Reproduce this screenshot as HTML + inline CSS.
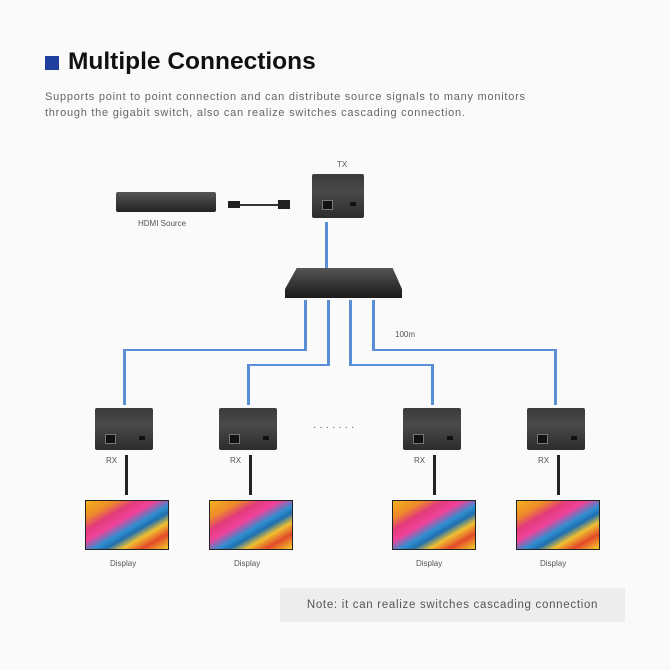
<!DOCTYPE html>
<html><head><style>
body{margin:0;width:670px;height:670px;background:#fafafa;position:relative;overflow:hidden;font-family:"Liberation Sans",sans-serif}
.a{position:absolute}
.rx{position:absolute;width:58px;height:42px;background:linear-gradient(#3a3a3a,#4a4a4a 40%,#2c2c2c);border-radius:2px}
.rx:before{content:"";position:absolute;left:10px;top:26px;width:9px;height:8px;background:#111;border:1px solid #777}
.rx:after{content:"";position:absolute;right:8px;top:28px;width:6px;height:4px;background:#111}
.tv{position:absolute;width:82px;height:48px;background:linear-gradient(150deg,#f2b21a 0%,#ee8a2a 18%,#e23b7a 30%,#f0429a 42%,#2f8fd0 55%,#1f6fb0 62%,#f0c030 72%,#e34a2a 84%,#f6d02a 100%);border:1px solid #222}
.lbl{position:absolute;font-size:8px;color:#555}
.cab{position:absolute;width:3px;background:#222}
.bl{position:absolute;background:#5a8fd8}
</style></head><body>
<div class="a" style="left:45px;top:56px;width:14px;height:14px;background:#1f3e9e"></div>
<div class="a" style="left:68px;top:48px;font-size:24.5px;font-weight:bold;color:#111">Multiple Connections</div>
<div class="a" style="left:45px;top:89px;font-size:11px;letter-spacing:0.75px;color:#666;line-height:16px;white-space:nowrap">Supports point to point connection and can distribute source signals to many monitors<br>through the gigabit switch, also can realize switches cascading connection.</div>

<div class="a" style="left:116px;top:192px;width:100px;height:20px;background:linear-gradient(#555,#222);border-radius:2px"></div>
<div class="lbl" style="left:138px;top:219px">HDMI Source</div>
<div class="a" style="left:228px;top:201px;width:12px;height:7px;background:#222"></div>
<div class="a" style="left:240px;top:204px;width:38px;height:2px;background:#333"></div>
<div class="a" style="left:278px;top:200px;width:12px;height:9px;background:#222"></div>
<div class="lbl" style="left:337px;top:160px">TX</div>
<div class="rx" style="left:312px;top:174px;width:52px;height:44px"></div>

<div class="bl" style="left:325px;top:222px;width:3px;height:46px"></div>
<div class="a" style="left:285px;top:268px;width:117px;height:30px;background:linear-gradient(#555,#1a1a1a);clip-path:polygon(10% 0,92% 0,100% 70%,100% 100%,0 100%,0 70%)"></div>

<div class="bl" style="left:304px;top:300px;width:3px;height:51px"></div>
<div class="bl" style="left:124px;top:349px;width:183px;height:2px"></div>
<div class="bl" style="left:123px;top:349px;width:3px;height:56px"></div>
<div class="bl" style="left:327px;top:300px;width:3px;height:66px"></div>
<div class="bl" style="left:248px;top:364px;width:82px;height:2px"></div>
<div class="bl" style="left:247px;top:364px;width:3px;height:41px"></div>
<div class="bl" style="left:349px;top:300px;width:3px;height:66px"></div>
<div class="bl" style="left:349px;top:364px;width:84px;height:2px"></div>
<div class="bl" style="left:431px;top:364px;width:3px;height:41px"></div>
<div class="bl" style="left:372px;top:300px;width:3px;height:51px"></div>
<div class="bl" style="left:372px;top:349px;width:184px;height:2px"></div>
<div class="bl" style="left:554px;top:349px;width:3px;height:56px"></div>
<div class="lbl" style="left:395px;top:330px">100m</div>

<div class="rx" style="left:95px;top:408px"></div>
<div class="rx" style="left:219px;top:408px"></div>
<div class="rx" style="left:403px;top:408px"></div>
<div class="rx" style="left:527px;top:408px"></div>
<div class="a" style="left:313px;top:422px;font-size:10px;color:#555;letter-spacing:3px">·······</div>

<div class="lbl" style="left:106px;top:456px">RX</div>
<div class="lbl" style="left:230px;top:456px">RX</div>
<div class="lbl" style="left:414px;top:456px">RX</div>
<div class="lbl" style="left:538px;top:456px">RX</div>
<div class="cab" style="left:125px;top:455px;height:40px"></div>
<div class="cab" style="left:249px;top:455px;height:40px"></div>
<div class="cab" style="left:433px;top:455px;height:40px"></div>
<div class="cab" style="left:557px;top:455px;height:40px"></div>

<div class="tv" style="left:85px;top:500px"></div>
<div class="tv" style="left:209px;top:500px"></div>
<div class="tv" style="left:392px;top:500px"></div>
<div class="tv" style="left:516px;top:500px"></div>
<div class="lbl" style="left:110px;top:559px">Display</div>
<div class="lbl" style="left:234px;top:559px">Display</div>
<div class="lbl" style="left:416px;top:559px">Display</div>
<div class="lbl" style="left:540px;top:559px">Display</div>

<div class="a" style="left:280px;top:588px;width:345px;height:34px;background:#ededed;font-size:11.5px;letter-spacing:0.7px;color:#555;text-align:center;line-height:34px;white-space:nowrap">Note: it can realize switches cascading connection</div>
</body></html>
